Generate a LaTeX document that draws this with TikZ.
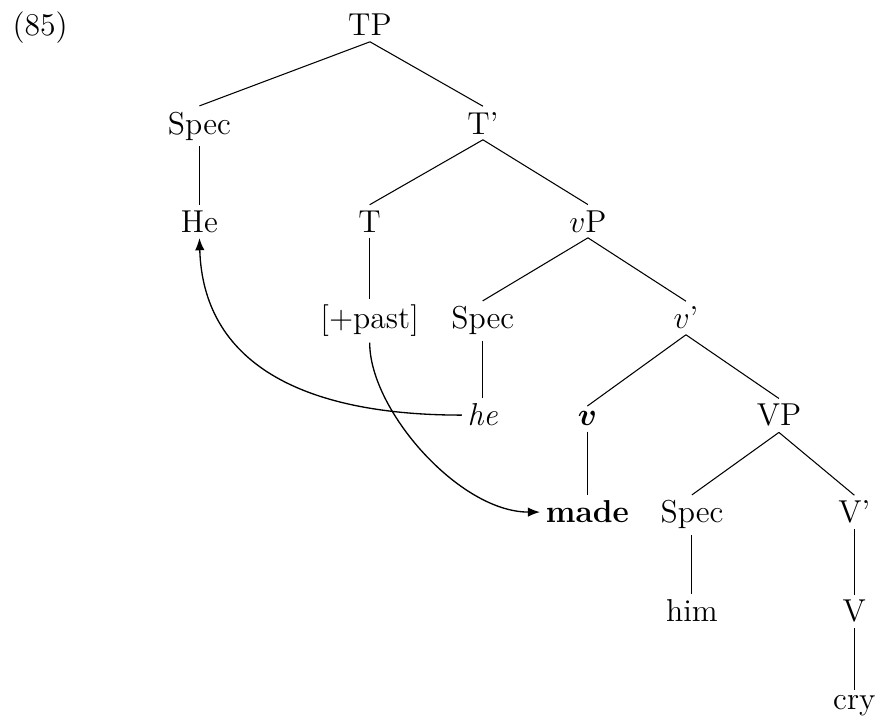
\documentclass[tikz,border=0pt,12pt]{standalone}
\usepackage{bm}
\usetikzlibrary{arrows.meta}
\tikzset{
  tree label/.style={
    anchor=base,
    inner sep=2pt,
  },
  tree edge/.style={
    line width=0.4pt,
  },
  move arrow/.style={
    -{Latex[length=4.6pt,width=3.6pt]},
    line width=0.5pt,
  },
}

\begin{document}
\begin{tikzpicture}[x=1cm,y=1cm]
  \useasboundingbox (0,0) rectangle (11.65,-9.545);

  \node[anchor=base west, inner sep=0pt] (exnum) at (0.16,-0.479) {(85)};

  % levels of the tree
  \node[tree label] (tp) at (4.926,-0.479) {TP};
  \node[tree label] (spec1) at (2.655,-1.784) {Spec};
  \node[tree label] (tbar) at (6.430,-1.784) {T'};
  \node[tree label] (He) at (2.655,-3.089) {He};
  \node[tree label] (t) at (4.922,-3.089) {T};
  \node[tree label] (vp) at (7.828,-3.089) {$v$P};
  \node[tree label] (past) at (4.922,-4.380) {[+past]};
  \node[tree label] (spec2) at (6.427,-4.380) {Spec};
  \node[tree label] (vbar) at (9.133,-4.380) {$v$'};
  \node[tree label] (he) at (6.427,-5.671) {\textit{he}};
  \node[tree label] (v) at (7.82,-5.671) {$\bm{v}$};
  \node[tree label] (bigvp) at (10.371,-5.671) {VP};
  \node[tree label] (made) at (7.82,-6.963) {\textbf{made}};
  \node[tree label] (spec3) at (9.213,-6.963) {Spec};
  \node[tree label] (bigvbar) at (11.375,-6.963) {V'};
  \node[tree label] (him) at (9.213,-8.281) {him};
  \node[tree label] (bigv) at (11.375,-8.281) {V};
  \node[tree label] (cry) at (11.375,-9.452) {cry};

  \draw[tree edge] (tp.south) -- (spec1.north);
  \draw[tree edge] (tp.south) -- (tbar.north);
  \draw[tree edge] (spec1.south) -- (He.north);
  \draw[tree edge] (tbar.south) -- (t.north);
  \draw[tree edge] (tbar.south) -- (vp.north);
  \draw[tree edge] (t.south) -- (past.north);
  \draw[tree edge] (vp.south) -- (spec2.north);
  \draw[tree edge] (vp.south) -- (vbar.north);
  \draw[tree edge] (spec2.south) -- (he.north);
  \draw[tree edge] (vbar.south) -- (v.north);
  \draw[tree edge] (vbar.south) -- (bigvp.north);
  \draw[tree edge] (v.south) -- (made.north);
  \draw[tree edge] (bigvp.south) -- (spec3.north);
  \draw[tree edge] (bigvp.south) -- (bigvbar.north);
  \draw[tree edge] (spec3.south) -- (him.north);
  \draw[tree edge] (bigvbar.south) -- (bigv.north);
  \draw[tree edge] (bigv.south) -- (cry.north);

  % movement
  \draw[move arrow] (he.west) .. controls +(-2.15,0) and +(0.05,-1.65) .. (He.south);
  \draw[move arrow] (past.south) .. controls +(0,-0.9) and +(-1.07,0) .. (made.west);
\end{tikzpicture}
\end{document}
